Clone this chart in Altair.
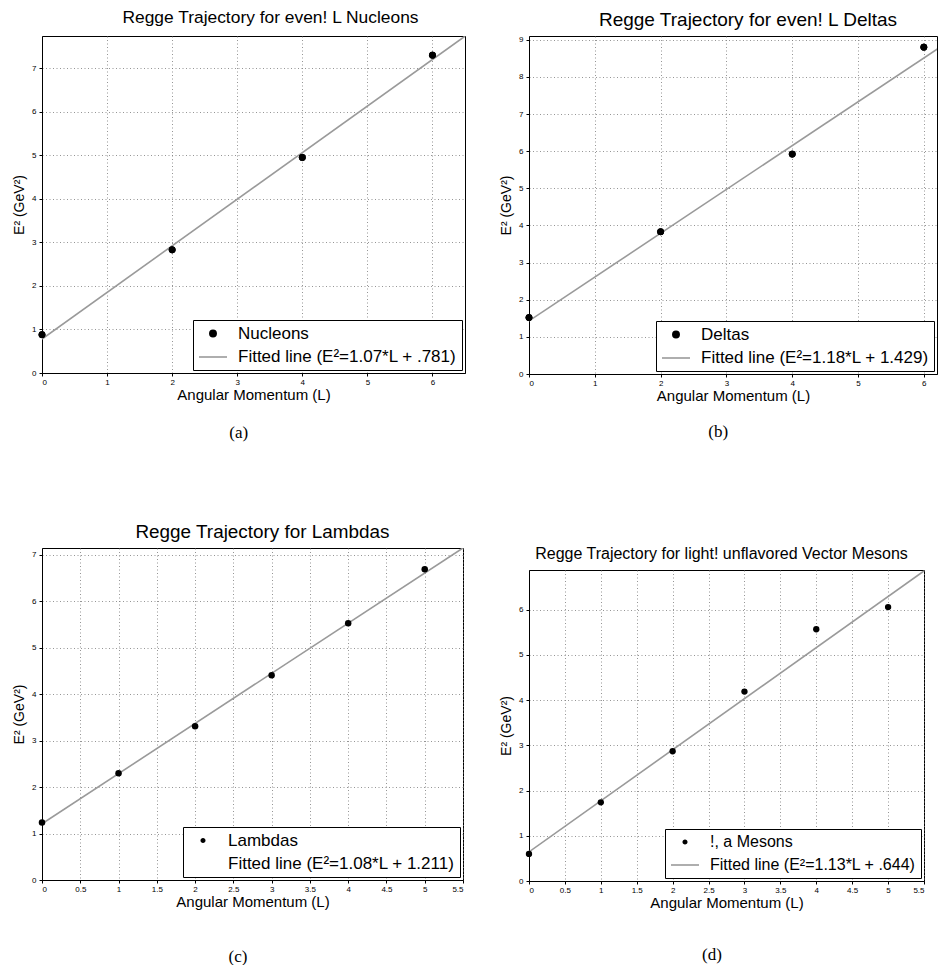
import altair as alt
import pandas as pd

FONT = "Liberation Sans"

# ---------------- data ----------------
# (a) even-L nucleons
a_L = [0, 2, 4, 6]
a_E = [0.88, 2.83, 4.95, 7.30]
a_fit_L = [0, 6.5]
a_fit_E = [0.781, 7.736]
# (b) even-L deltas
b_L = [0, 2, 4, 6]
b_E = [1.52, 3.83, 5.92, 8.80]
b_fit_L = [0, 6.5]
b_fit_E = [1.429, 9.099]
# (c) lambdas
c_L = [0, 1, 2, 3, 4, 5]
c_E = [1.24, 2.30, 3.31, 4.41, 5.53, 6.69]
c_fit_L = [0, 5.5]
c_fit_E = [1.211, 7.151]
# (d) light unflavored vector mesons
d_L = [0, 1, 2, 3, 4, 5]
d_E = [0.60, 1.74, 2.87, 4.19, 5.57, 6.06]
d_fit_L = [0, 5.5]
d_fit_E = [0.644, 6.859]

int_ticks_6 = [0, 1, 2, 3, 4, 5, 6]
half_ticks = [0, 0.5, 1, 1.5, 2, 2.5, 3, 3.5, 4, 4.5, 5, 5.5]
y_ticks_a = [0, 1, 2, 3, 4, 5, 6, 7]
y_ticks_b = [0, 1, 2, 3, 4, 5, 6, 7, 8, 9]
y_ticks_c = [0, 1, 2, 3, 4, 5, 6, 7]
y_ticks_d = [0, 1, 2, 3, 4, 5, 6]

RES = dict(fill="independent", stroke="independent", shape="independent",
           size="independent", x="independent", y="independent")
LINE_GRAY = "#9a9a9a"


def panel(L, E, fL, fE, pname, fname, title, tsize, tdx, toff, xdom, ydom, xt, yt,
          w, h, lab_size, pt_size, leg_pt_size, line_leg_color):
    pts = pd.DataFrame({"L": L, "E": E, "series": pname})
    fit = pd.DataFrame({"L": fL, "E": fE})
    dom = [pname, fname]
    x = alt.X("L:Q",
              scale=alt.Scale(domain=xdom, nice=False, zero=False),
              axis=alt.Axis(values=xt, format="~g", title="Angular Momentum (L)"))
    y = alt.Y("E:Q",
              scale=alt.Scale(domain=ydom, nice=False, zero=False),
              axis=alt.Axis(values=yt, format="~g", title="E² (GeV²)"))
    leg = alt.Legend(title=None, orient="bottom-right", offset=3,
                     labelFontSize=lab_size, labelFont=FONT, labelLimit=500,
                     fillColor="white", strokeColor="black", padding=5,
                     symbolStrokeWidth=1.6, labelOffset=10, rowPadding=0)
    line = alt.Chart(fit).mark_line(color=LINE_GRAY, strokeWidth=1.6,
                                    clip=True).encode(x=x, y=y)
    # layer carrying the legend (its marks sit under the visible dots)
    legend_pts = alt.Chart(pts).mark_point(filled=True, opacity=1, strokeWidth=1).encode(
        x=x, y=y,
        fill=alt.Fill("series:N", scale=alt.Scale(domain=dom, range=["black", line_leg_color]), legend=leg),
        stroke=alt.Stroke("series:N", scale=alt.Scale(domain=dom, range=["black", line_leg_color]), legend=leg),
        shape=alt.Shape("series:N", scale=alt.Scale(domain=dom, range=["circle", "stroke"]), legend=leg),
        size=alt.Size("series:N", scale=alt.Scale(domain=dom, range=[leg_pt_size, 784]), legend=leg),
    )
    dots = alt.Chart(pts).mark_point(filled=True, opacity=1, color="black",
                                     size=pt_size).encode(x=x, y=y)
    return alt.layer(line, legend_pts, dots).properties(
        width=w, height=h,
        title=alt.TitleParams(title, fontSize=tsize, font=FONT, fontWeight="normal",
                              offset=toff, anchor="middle", dx=tdx),
    )


def wrap(p, cap, off):
    return alt.vconcat(p).properties(
        title=alt.TitleParams(cap, orient="bottom", font="Liberation Serif", fontSize=17,
                              fontWeight="normal", offset=off, anchor="middle")
    ).resolve_scale(**RES)


pa = panel(a_L, a_E, a_fit_L, a_fit_E, "Nucleons", "Fitted line (E²=1.07*L + .781)",
           "Regge Trajectory for even! L Nucleons", 17.4, 17, 10, [0, 6.5], [0, 7.74],
           int_ticks_6, y_ticks_a, 423, 337, 17, 45, 40, LINE_GRAY)
pb = panel(b_L, b_E, b_fit_L, b_fit_E, "Deltas", "Fitted line (E²=1.18*L + 1.429)",
           "Regge Trajectory for even! L Deltas", 19, 15, 6, [0, 6.2], [0, 9.1],
           int_ticks_6, y_ticks_b, 408, 338, 17, 45, 40, LINE_GRAY)
pc = panel(c_L, c_E, c_fit_L, c_fit_E, "Lambdas", "Fitted line (E²=1.08*L + 1.211)",
           "Regge Trajectory for Lambdas", 18.9, 10, 6, [0, 5.5], [0, 7.15],
           half_ticks, y_ticks_c, 421, 332, 17, 42, 12, "rgba(0,0,0,0)")
pd_ = panel(d_L, d_E, d_fit_L, d_fit_E, "!, a Mesons", "Fitted line (E²=1.13*L + .644)",
            "Regge Trajectory for light! unflavored Vector Mesons", 16, -5, 8, [0, 5.5], [0, 6.88],
            half_ticks, y_ticks_d, 395, 311, 16, 40, 12, LINE_GRAY)

left = alt.vconcat(wrap(pa, "(a)", 22), wrap(pc, "(c)", 39), spacing=81).resolve_scale(**RES)
right = alt.vconcat(wrap(pb, "(b)", 20), wrap(pd_, "(d)", 36), spacing=105).resolve_scale(**RES)

chart = alt.hconcat(left, right, spacing=33).resolve_scale(**RES).properties(
    padding={"left": 4, "top": 0, "right": 0, "bottom": 0}
).configure_view(
    stroke="black", strokeWidth=1
).configure_axis(
    labelFont=FONT, labelFontSize=8, labelColor="black", labelPadding=2,
    titleFont=FONT, titleColor="black",
    domainColor="black", tickColor="black", tickSize=3,
    gridColor="#7a7a7a", gridDash=[1, 2.5], gridWidth=0.8, gridOpacity=1,
).configure_axisX(
    titleFontSize=15, titleFontWeight="normal", titlePadding=1,
).configure_axisY(
    titleFontSize=14, titleFontWeight="normal", titlePadding=5, labelPadding=3,
    minExtent=0,
).configure_title(
    color="black"
)

chart.save("out.html", embed_options={"renderer": "svg", "actions": False})
